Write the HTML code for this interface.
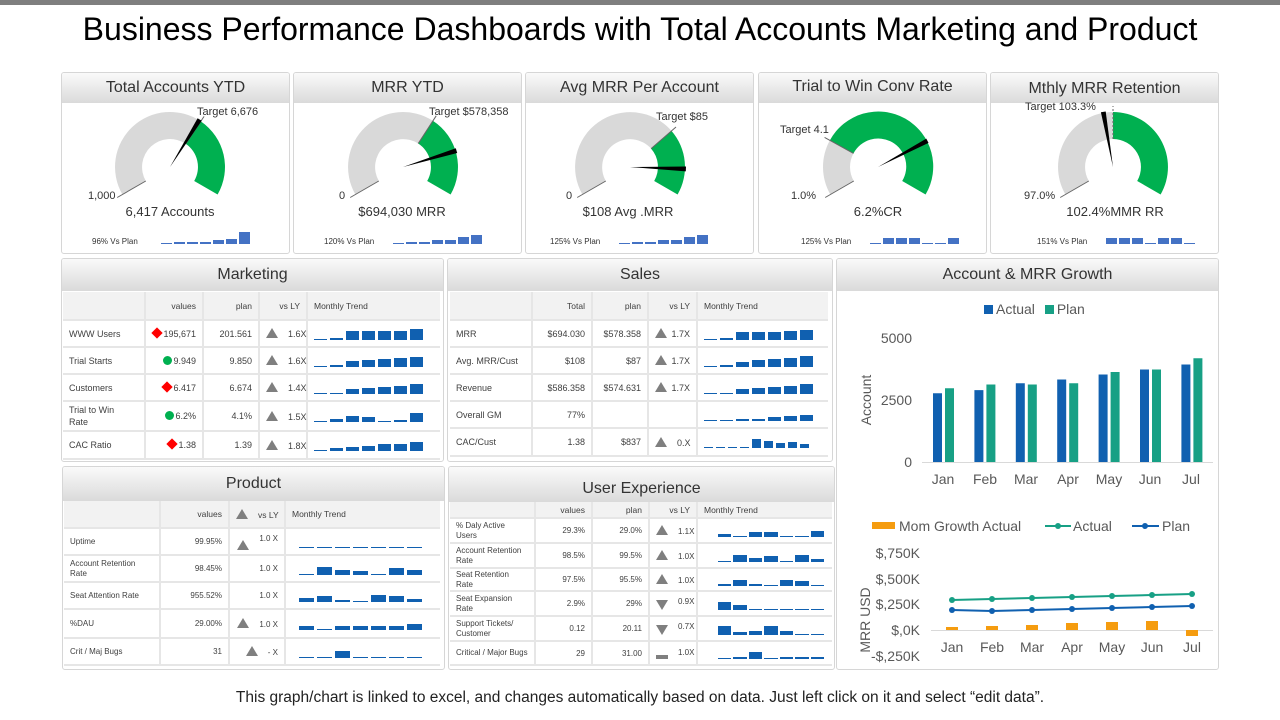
<!DOCTYPE html>
<html><head><meta charset="utf-8">
<style>
*{box-sizing:border-box;margin:0;padding:0}
body{width:1280px;height:720px;background:#fff;position:relative;overflow:hidden;font-family:"Liberation Sans",Arial,sans-serif;color:#333}
.t{position:absolute;white-space:nowrap}
.p{position:absolute;border:1px solid #d6d6d6;border-radius:3px;background:#fff;overflow:hidden}
.h{position:absolute;left:0;right:0;top:0;background:linear-gradient(#fafafa,#dadada);text-align:center;font-size:16px;color:#333}
table{position:absolute;border-collapse:collapse;table-layout:fixed;font-size:9px;color:#404040}
td{border-bottom:2px solid #e6e6e6;border-right:2px solid #e6e6e6;padding:0 6px;text-align:right;overflow:visible;white-space:nowrap}
td:first-child{text-align:left;white-space:normal;line-height:12px}
.sm td:first-child{line-height:10px}
td:last-child{border-right:none;text-align:left}
tr.hd td{background:#f2f2f2;font-size:8.5px}
.tri{display:inline-block;width:0;height:0;border-left:6px solid transparent;border-right:6px solid transparent;border-bottom:10px solid #7f7f7f;vertical-align:-1px;margin-right:10px}
.trd{display:inline-block;width:0;height:0;border-left:6px solid transparent;border-right:6px solid transparent;border-top:10px solid #7f7f7f;vertical-align:-6px;margin-right:10px}
.dia{display:inline-block;width:8px;height:8px;background:#f00;transform:rotate(45deg);margin-right:2px}
.dot{display:inline-block;width:9px;height:9px;border-radius:50%;background:#00b050;margin-right:1px;vertical-align:-1px}
.sp{display:flex;align-items:flex-end;height:12px}
.sp i{display:block;background:#1060b0}
</style></head><body>
<div style="position:absolute;left:0;top:0;width:1280px;height:5px;background:#7f7f7f"></div>
<div class="t" style="left:0;width:1280px;text-align:center;top:11px;font-size:32px;color:#000">Business Performance Dashboards with Total Accounts Marketing and Product</div>

<div class="p" style="left:61px;top:72px;width:229px;height:182px"><div class="h" style="height:30px;line-height:30px">Total Accounts YTD</div></div>
<div class="p" style="left:293px;top:72px;width:229px;height:182px"><div class="h" style="height:30px;line-height:30px">MRR YTD</div></div>
<div class="p" style="left:525px;top:72px;width:229px;height:182px"><div class="h" style="height:30px;line-height:30px">Avg MRR Per Account</div></div>
<div class="p" style="left:758px;top:72px;width:229px;height:182px"><div class="h" style="height:30px;line-height:28px">Trial to Win Conv Rate</div></div>
<div class="p" style="left:990px;top:72px;width:229px;height:182px"><div class="h" style="height:30px;line-height:31px">Mthly MRR Retention</div></div>

<div class="p" style="left:61px;top:258px;width:383px;height:204px"><div class="h" style="height:32px;line-height:32px">Marketing</div></div>
<div class="p" style="left:447px;top:258px;width:386px;height:204px"><div class="h" style="height:32px;line-height:32px">Sales</div></div>
<div class="p" style="left:836px;top:258px;width:383px;height:412px"><div class="h" style="height:32px;line-height:32px">Account &amp; MRR Growth</div></div>
<div class="p" style="left:62px;top:466px;width:383px;height:204px"><div class="h" style="height:34px;line-height:34px">Product</div></div>
<div class="p" style="left:448px;top:466px;width:387px;height:204px"><div class="h" style="height:35px;line-height:44px">User Experience</div></div>

<svg id="g" width="1280" height="720" style="position:absolute;left:0;top:0"></svg>

<div class="t" style="left:197px;top:106px;font-size:11px">Target 6,676</div>
<div class="t" style="left:88px;top:190px;font-size:11px">1,000</div>
<div class="t" style="left:90px;top:204px;width:160px;text-align:center;font-size:13px">6,417 Accounts</div>
<div class="t" style="left:92px;top:237px;font-size:8px">96% Vs Plan</div>

<div class="t" style="left:429px;top:106px;font-size:11px">Target $578,358</div>
<div class="t" style="left:339px;top:190px;font-size:11px">0</div>
<div class="t" style="left:322px;top:204px;width:160px;text-align:center;font-size:13px">$694,030 MRR</div>
<div class="t" style="left:324px;top:237px;font-size:8px">120% Vs Plan</div>

<div class="t" style="left:656px;top:111px;font-size:11px">Target $85</div>
<div class="t" style="left:566px;top:190px;font-size:11px">0</div>
<div class="t" style="left:548px;top:204px;width:160px;text-align:center;font-size:13px">$108 Avg .MRR</div>
<div class="t" style="left:550px;top:237px;font-size:8px">125% Vs Plan</div>

<div class="t" style="left:780px;top:124px;font-size:11px">Target 4.1</div>
<div class="t" style="left:791px;top:190px;font-size:11px">1.0%</div>
<div class="t" style="left:798px;top:204px;width:160px;text-align:center;font-size:13px">6.2%CR</div>
<div class="t" style="left:801px;top:237px;font-size:8px">125% Vs Plan</div>

<div class="t" style="left:1025px;top:101px;font-size:11px">Target 103.3%</div>
<div class="t" style="left:1024px;top:190px;font-size:11px">97.0%</div>
<div class="t" style="left:1035px;top:204px;width:160px;text-align:center;font-size:13px">102.4%MMR RR</div>
<div class="t" style="left:1037px;top:237px;font-size:8px">151% Vs Plan</div>

<table style="left:63px;top:292px;width:377px">
<colgroup><col style="width:82px"><col style="width:58px"><col style="width:56px"><col style="width:48px"><col style="width:133px"></colgroup>
<tr class="hd" style="height:28px"><td></td><td>values</td><td>plan</td><td>vs LY</td><td>Monthly Trend</td></tr>
<tr style="height:27px"><td>WWW Users</td><td><span class="dia"></span>195,671</td><td>201.561</td><td><span class="tri"></span>1.6X</td><td><div class="sp" id="m1"></div></td></tr>
<tr style="height:27px"><td>Trial Starts</td><td><span class="dot"></span>9.949</td><td>9.850</td><td><span class="tri"></span>1.6X</td><td><div class="sp" id="m2"></div></td></tr>
<tr style="height:27px"><td>Customers</td><td><span class="dia"></span>6.417</td><td>6.674</td><td><span class="tri"></span>1.4X</td><td><div class="sp" id="m3"></div></td></tr>
<tr style="height:30px"><td style="padding-right:20px">Trial to Win Rate</td><td><span class="dot"></span>6.2%</td><td>4.1%</td><td><span class="tri"></span>1.5X</td><td><div class="sp" id="m4"></div></td></tr>
<tr style="height:28px"><td>CAC Ratio</td><td><span class="dia"></span>1.38</td><td>1.39</td><td><span class="tri"></span>1.8X</td><td><div class="sp" id="m5"></div></td></tr>
</table>

<table style="left:450px;top:292px;width:378px">
<colgroup><col style="width:82px"><col style="width:60px"><col style="width:56px"><col style="width:49px"><col style="width:131px"></colgroup>
<tr class="hd" style="height:28px"><td></td><td>Total</td><td>plan</td><td>vs LY</td><td>Monthly Trend</td></tr>
<tr style="height:27px"><td>MRR</td><td>$694.030</td><td>$578.358</td><td><span class="tri" style="margin-right:4px"></span>1.7X</td><td><div class="sp" id="s1"></div></td></tr>
<tr style="height:27px"><td>Avg. MRR/Cust</td><td>$108</td><td>$87</td><td><span class="tri" style="margin-right:4px"></span>1.7X</td><td><div class="sp" id="s2"></div></td></tr>
<tr style="height:27px"><td>Revenue</td><td>$586.358</td><td>$574.631</td><td><span class="tri" style="margin-right:4px"></span>1.7X</td><td><div class="sp" id="s3"></div></td></tr>
<tr style="height:27px"><td>Overall GM</td><td>77%</td><td></td><td></td><td><div class="sp" id="s4"></div></td></tr>
<tr style="height:28px"><td>CAC/Cust</td><td>1.38</td><td>$837</td><td><span class="tri"></span>0.X</td><td><div class="sp" id="s5"></div></td></tr>
</table>

<table class="sm" style="left:64px;top:501px;width:376px;font-size:8px">
<colgroup><col style="width:96px"><col style="width:69px"><col style="width:56px"><col style="width:155px"></colgroup>
<tr class="hd" style="height:27px"><td></td><td>values</td><td><span class="tri"></span>vs LY</td><td>Monthly Trend</td></tr>
<tr style="height:27px"><td>Uptime</td><td>99.95%</td><td><span class="tri" style="vertical-align:-9px"></span>1.0 X</td><td><div class="sp" id="p1" style="padding-left:7px"></div></td></tr>
<tr style="height:27px"><td>Account Retention Rate</td><td>98.45%</td><td>1.0 X</td><td><div class="sp" id="p2" style="padding-left:7px"></div></td></tr>
<tr style="height:27px"><td>Seat Attention Rate</td><td>955.52%</td><td>1.0 X</td><td><div class="sp" id="p3" style="padding-left:7px"></div></td></tr>
<tr style="height:29px"><td>%DAU</td><td>29.00%</td><td><span class="tri"></span>1.0 X</td><td><div class="sp" id="p4" style="padding-left:7px"></div></td></tr>
<tr style="height:27px"><td>Crit / Maj Bugs</td><td>31</td><td><span class="tri"></span>- X</td><td><div class="sp" id="p5" style="padding-left:7px"></div></td></tr>
</table>

<table class="sm" style="left:450px;top:502px;width:382px;font-size:8px">
<colgroup><col style="width:85px"><col style="width:57px"><col style="width:57px"><col style="width:48px"><col style="width:135px"></colgroup>
<tr class="hd" style="height:16px"><td></td><td>values</td><td>plan</td><td>vs LY</td><td>Monthly Trend</td></tr>
<tr style="height:25px"><td>% Daly Active Users</td><td>29.3%</td><td>29.0%</td><td><span class="tri"></span>1.1X</td><td><div class="sp" id="u1" style="padding-left:14px"></div></td></tr>
<tr style="height:25px"><td>Account Retention Rate</td><td>98.5%</td><td>99.5%</td><td><span class="tri"></span>1.0X</td><td><div class="sp" id="u2" style="padding-left:14px"></div></td></tr>
<tr style="height:23px"><td>Seat Retention Rate</td><td>97.5%</td><td>95.5%</td><td><span class="tri"></span>1.0X</td><td><div class="sp" id="u3" style="padding-left:14px"></div></td></tr>
<tr style="height:25px"><td>Seat Expansion Rate</td><td>2.9%</td><td>29%</td><td><span class="trd"></span>0.9X</td><td><div class="sp" id="u4" style="padding-left:14px"></div></td></tr>
<tr style="height:25px"><td>Support Tickets/ Customer</td><td>0.12</td><td>20.11</td><td><span class="trd"></span>0.7X</td><td><div class="sp" id="u5" style="padding-left:14px"></div></td></tr>
<tr style="height:24px"><td>Critical / Major Bugs</td><td>29</td><td>31.00</td><td><span style="display:inline-block;width:12px;height:4px;background:#7f7f7f;vertical-align:-4px;margin-right:10px"></span>1.0X</td><td><div class="sp" id="u6" style="padding-left:14px"></div></td></tr>
</table>

<div class="t" style="left:984px;top:301px;font-size:14px;color:#595959"><span style="display:inline-block;width:9px;height:9px;background:#1060b0;margin-right:3px"></span>Actual <span style="display:inline-block;width:9px;height:9px;background:#17a085;margin:0 3px 0 6px"></span>Plan</div>
<div class="t" style="left:870px;top:330px;width:42px;text-align:right;font-size:14px;color:#595959">5000</div>
<div class="t" style="left:870px;top:392px;width:42px;text-align:right;font-size:14px;color:#595959">2500</div>
<div class="t" style="left:870px;top:454px;width:42px;text-align:right;font-size:14px;color:#595959">0</div>
<div class="t" style="left:836px;top:392px;width:60px;text-align:center;font-size:14px;color:#595959;transform:rotate(-90deg)">Account</div>
<div class="t" style="left:830px;top:612px;width:70px;text-align:center;font-size:14px;color:#595959;transform:rotate(-90deg)">MRR USD</div>
<div class="t" style="left:899px;top:518px;font-size:14px;color:#595959">Mom Growth Actual</div>
<div class="t" style="left:1073px;top:518px;font-size:14px;color:#595959">Actual</div>
<div class="t" style="left:1162px;top:518px;font-size:14px;color:#595959">Plan</div>
<div class="t" style="left:850px;top:545px;width:70px;text-align:right;font-size:14px;color:#595959">$,750K</div>
<div class="t" style="left:850px;top:571px;width:70px;text-align:right;font-size:14px;color:#595959">$,500K</div>
<div class="t" style="left:850px;top:596px;width:70px;text-align:right;font-size:14px;color:#595959">$,250K</div>
<div class="t" style="left:850px;top:622px;width:70px;text-align:right;font-size:14px;color:#595959">$,0K</div>
<div class="t" style="left:850px;top:648px;width:70px;text-align:right;font-size:14px;color:#595959">-$,250K</div>
<div class="t" style="left:923px;top:471px;width:290px;font-size:14px;color:#595959">
<span class="t" style="left:0;width:40px;text-align:center">Jan</span><span class="t" style="left:42px;width:40px;text-align:center">Feb</span><span class="t" style="left:83px;width:40px;text-align:center">Mar</span><span class="t" style="left:125px;width:40px;text-align:center">Apr</span><span class="t" style="left:166px;width:40px;text-align:center">May</span><span class="t" style="left:207px;width:40px;text-align:center">Jun</span><span class="t" style="left:248px;width:40px;text-align:center">Jul</span></div>
<div class="t" style="left:932px;top:639px;width:290px;font-size:14px;color:#595959">
<span class="t" style="left:0;width:40px;text-align:center">Jan</span><span class="t" style="left:40px;width:40px;text-align:center">Feb</span><span class="t" style="left:80px;width:40px;text-align:center">Mar</span><span class="t" style="left:120px;width:40px;text-align:center">Apr</span><span class="t" style="left:160px;width:40px;text-align:center">May</span><span class="t" style="left:200px;width:40px;text-align:center">Jun</span><span class="t" style="left:240px;width:40px;text-align:center">Jul</span></div>

<div class="t" style="left:0;width:1280px;text-align:center;top:689px;font-size:15.5px;color:#222">This graph/chart is linked to excel, and changes automatically  based on data. Just left click on it and select “edit data”.</div>

<script>
var S='';
function P(cx,cy,r,a){a=a*Math.PI/180;return [(cx+r*Math.cos(a)).toFixed(1),(cy-r*Math.sin(a)).toFixed(1)];}
function arc(cx,cy,r1,r2,a1,a2,c){var L=(a1-a2>180)?1:0;var p1=P(cx,cy,r2,a1),p2=P(cx,cy,r2,a2),p3=P(cx,cy,r1,a2),p4=P(cx,cy,r1,a1);
S+='<path d="M'+p1+' A'+r2+' '+r2+' 0 '+L+' 1 '+p2+' L'+p3+' A'+r1+' '+r1+' 0 '+L+' 0 '+p4+' Z" fill="'+c+'"/>';}
function ln(cx,cy,r1,r2,a,dash){var a1=P(cx,cy,r1,a),b=P(cx,cy,r2,a);S+='<line x1="'+a1[0]+'" y1="'+a1[1]+'" x2="'+b[0]+'" y2="'+b[1]+'" stroke="#666" stroke-width="1"'+(dash?' stroke-dasharray="2,2"':'')+'/>';}
function needle(cx,cy,r,a){var b=P(cx,cy,r,a+2.5),c=P(cx,cy,r,a-2.5);S+='<polygon points="'+cx+','+cy+' '+b+' '+c+'" fill="#000"/>';}
function gauge(cx,cy,g,n){var r1=28,r2=55;arc(cx,cy,r1,r2,210,g,'#d9d9d9');arc(cx,cy,r1,r2,g,-30,'#00b050');ln(cx,cy,r1,r2+6,210);ln(cx,cy,r1,r2+6,g,g==90);needle(cx,cy,r2+1,n);}
gauge(170,167,56,58);gauge(403,167,57,17);gauge(630,167,41,-2);gauge(878,167,151,28);gauge(1113,167,90,100);
function gsp(x,h){for(var i=0;i<7;i++)S+='<rect x="'+(x+i*13)+'" y="'+(244-h[i])+'" width="11" height="'+h[i]+'" fill="#4472c4"/>';}
gsp(161,[1,2,2,2,4,5,12]);gsp(393,[1,2,2,4,4,7,9]);gsp(619,[1,2,2,4,4,7,9]);gsp(870,[1,6,6,6,1,1,6]);gsp(1106,[6,6,6,1,6,6,1]);
S+='<line x1="922" y1="462.5" x2="1213" y2="462.5" stroke="#d9d9d9"/>';
var A=[2750,2875,3150,3300,3500,3700,3900],B=[2950,3100,3100,3150,3600,3700,4150];
for(var i=0;i<7;i++){var cx=943+i*41.4;var ha=A[i]/5000*125,hb=B[i]/5000*125;
S+='<rect x="'+(cx-10)+'" y="'+(462-ha)+'" width="9" height="'+ha+'" fill="#1060b0"/>';
S+='<rect x="'+(cx+2)+'" y="'+(462-hb)+'" width="9" height="'+hb+'" fill="#17a085"/>';}
S+='<line x1="931" y1="630.5" x2="1213" y2="630.5" stroke="#d9d9d9"/>';
var O=[3,4,5,7,8,9,-6],G=[600,599,598,597,596,595,594],Bl=[610,611,610,609,608,607,606];
var gp='',bp='';
for(var i=0;i<7;i++){var x=952+i*40;var o=O[i];
S+='<rect x="'+(x-6)+'" y="'+(o>0?630-o:630)+'" width="12" height="'+Math.abs(o)+'" fill="#f59c0f"/>';
gp+=x+','+G[i]+' ';bp+=x+','+Bl[i]+' ';}
S+='<polyline points="'+gp+'" fill="none" stroke="#17a085" stroke-width="2"/><polyline points="'+bp+'" fill="none" stroke="#1060b0" stroke-width="2"/>';
for(var i=0;i<7;i++){var x=952+i*40;S+='<circle cx="'+x+'" cy="'+G[i]+'" r="3" fill="#17a085"/><circle cx="'+x+'" cy="'+Bl[i]+'" r="3" fill="#1060b0"/>';}
S+='<rect x="872" y="522" width="23" height="7" fill="#f59c0f"/>';
S+='<line x1="1045" y1="526" x2="1071" y2="526" stroke="#17a085" stroke-width="2"/><circle cx="1058" cy="526" r="3" fill="#17a085"/>';
S+='<line x1="1132" y1="526" x2="1159" y2="526" stroke="#1060b0" stroke-width="2"/><circle cx="1145" cy="526" r="3" fill="#1060b0"/>';
document.getElementById('g').innerHTML=S;
function sp(id,h,w,g){var e=document.getElementById(id),s='';for(var i=0;i<h.length;i++)s+='<i style="width:'+w+'px;height:'+h[i]+'px;margin-right:'+g+'px"></i>';e.innerHTML=s;}
sp('m1',[1,2,9,9,9,9,11],13,3);sp('m2',[1,2,6,7,8,9,10],13,3);sp('m3',[1,1,5,6,7,8,10],13,3);sp('m4',[1,3,6,5,1,2,9],13,3);sp('m5',[1,3,4,5,7,7,9],13,3);
sp('s1',[1,2,8,8,8,9,10],13,3);sp('s2',[1,2,5,7,8,9,11],13,3);sp('s3',[1,1,5,6,7,8,10],13,3);sp('s4',[1,1,2,2,4,5,6],13,3);sp('s5',[1,1,1,1,9,7,5,6,4],9,3);
sp('p1',[1,1,1,1,1,1,1],15,3);sp('p2',[1,8,5,4,1,7,5],15,3);sp('p3',[4,6,2,1,7,6,3],15,3);sp('p4',[4,1,4,4,4,4,6],15,3);sp('p5',[1,1,7,1,1,1,1],15,3);
sp('u1',[3,1,5,5,1,1,6],14,2);sp('u2',[1,7,4,6,1,7,3],14,2);sp('u3',[2,6,2,1,6,5,1],14,2);sp('u4',[8,5,1,1,1,1,1],14,2);sp('u5',[9,3,4,9,4,1,1],14,2);sp('u6',[1,2,7,1,2,2,2],14,2);
</script>
</body></html>
